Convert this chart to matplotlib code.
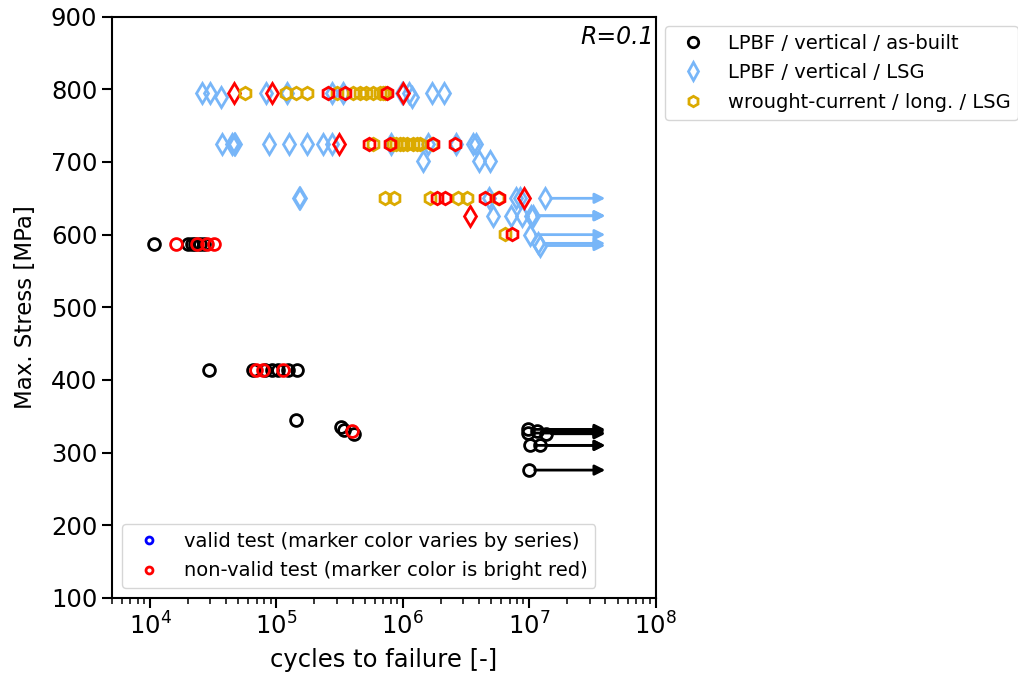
import matplotlib.pyplot as plt
from matplotlib.lines import Line2D
import numpy as np

# LPBF / vertical / as-built  (black circles)
asbuilt_N = [10.8e3, 20.1e3, 21.4e3, 22.7e3, 24.8e3, 26.7e3,
             29.3e3, 65.6e3, 81e3, 91.6e3, 103e3, 124e3, 146e3,
             142e3, 327e3, 340e3, 410e3]
asbuilt_S = [587, 587, 587, 587, 587, 587,
             414, 414, 414, 414, 414, 414, 414,
             345, 335, 331, 325]
asbuilt_bad_N = [16e3, 23.4e3, 28e3, 32.2e3, 68.8e3, 78.7e3, 113e3, 393e3]
asbuilt_bad_S = [587, 587, 587, 587, 414, 414, 414, 330]
asbuilt_run_N = [9.8e6, 9.8e6, 11.5e6, 13.5e6, 10.1e6, 12.1e6, 10.0e6]
asbuilt_run_S = [332, 327, 330, 326, 310, 310, 276]

# LPBF / vertical / LSG  (light blue diamonds)
lsg_N = [25.6e3, 29.8e3, 36.4e3, 82e3, 122e3, 276e3, 338e3, 989e3, 1.12e6, 1.19e6, 1.71e6, 2.11e6,
         37e3, 44.5e3, 46e3, 47e3, 87.7e3, 126e3, 173e3, 235e3, 276e3, 813e3, 1.59e6, 2.62e6, 3.6e6, 3.8e6,
         1.45e6, 4.0e6, 4.93e6,
         150e3, 155e3, 4.78e6, 7.9e6, 8.4e6,
         5.17e6, 7.23e6, 8.83e6]
lsg_S = [795, 795, 790, 795, 795, 795, 795, 795, 795, 790, 795, 795,
         725, 725, 725, 725, 725, 725, 725, 725, 725, 725, 725, 725, 725, 725,
         702, 702, 702,
         650, 651, 650, 650, 650,
         626, 626, 626]
lsg_bad_N = [46.4e3, 93e3, 1.0e6, 314e3, 9.1e6, 3.43e6]
lsg_bad_S = [795, 795, 795, 725, 650, 626]
lsg_run_N = [13.4e6, 10.3e6, 10.7e6, 10.1e6, 11.8e6, 12.2e6]
lsg_run_S = [650, 626, 626, 600, 588, 585]

# wrought-current / long. / LSG  (gold hexagons)
wr_N = [56.4e3, 118e3, 144e3, 173e3, 303e3, 405e3, 457e3, 516e3, 583e3, 658e3, 700e3, 720e3,
        583e3, 840e3, 880e3, 950e3, 1.0e6, 1.07e6, 1.2e6, 1.3e6, 1.36e6, 1.69e6,
        721e3, 849e3, 1.63e6, 2.74e6, 3.22e6, 5.67e6,
        6.4e6]
wr_S = [795, 795, 795, 795, 795, 795, 795, 795, 795, 795, 795, 795,
        725, 725, 725, 725, 725, 725, 725, 725, 725, 725,
        650, 650, 650, 650, 650, 650,
        601]
wr_bad_N = [254e3, 352e3, 743e3, 542e3, 789e3, 1.74e6, 2.58e6, 1.85e6, 2.15e6, 4.45e6, 5.8e6, 7.36e6]
wr_bad_S = [795, 795, 795, 725, 725, 725, 725, 650, 650, 650, 650, 601]

runout_end = 4.0e7

c_blue = '#78b6f8'
c_gold = '#dbaa00'
c_red = '#ff0000'

fig = plt.figure(figsize=(10.18, 6.76), dpi=100)
ax = fig.add_axes([0.110, 0.1154, 0.534, 0.860])


def runouts(N, S, col):
    for n, s in zip(N, S):
        ax.annotate('', xy=(runout_end, s), xytext=(n, s),
                    arrowprops=dict(arrowstyle='-|>', color=col, lw=2,
                                    mutation_scale=15, shrinkA=4, shrinkB=0))


mk = dict(fillstyle='none', linestyle='none', markeredgewidth=2)

# as-built
ax.plot(asbuilt_N, asbuilt_S, marker='o', ms=8.5, color='black', **mk)
ax.plot(asbuilt_bad_N, asbuilt_bad_S, marker='o', ms=8.5, color=c_red, **mk)
runouts(asbuilt_run_N, asbuilt_run_S, 'black')
ax.plot(asbuilt_run_N, asbuilt_run_S, marker='o', ms=8.5, color='black', **mk)

# LSG
ax.plot(lsg_N, lsg_S, marker='d', ms=10.5, color=c_blue, **mk)
ax.plot(lsg_bad_N, lsg_bad_S, marker='d', ms=10.5, color=c_red, **mk)
runouts(lsg_run_N, lsg_run_S, c_blue)
ax.plot(lsg_run_N, lsg_run_S, marker='d', ms=10.5, color=c_blue, **mk)

# wrought
ax.plot(wr_N, wr_S, marker='h', ms=9, color=c_gold, **mk)
ax.plot(wr_bad_N, wr_bad_S, marker='h', ms=9, color=c_red, **mk)

ax.set_xscale('log')
ax.set_xlim(5e3, 1e8)
ax.set_ylim(100, 900)
ax.set_yticks(np.arange(100, 901, 100))
ax.set_xlabel('cycles to failure [-]', fontsize=17.5, labelpad=6)
ax.set_ylabel('Max. Stress [MPa]', fontsize=16.5, labelpad=10)
ax.tick_params(axis='both', which='major', labelsize=17.5, width=1.5, length=7)
ax.tick_params(axis='both', which='minor', width=1.1, length=4)
for sp in ax.spines.values():
    sp.set_linewidth(1.5)

ax.text(0.997, 0.985, 'R=0.1', transform=ax.transAxes, ha='right', va='top',
        fontsize=17, style='italic')

h1 = [Line2D([], [], marker='o', ms=7.5, color='black', **mk),
      Line2D([], [], marker='d', ms=9, color=c_blue, **mk),
      Line2D([], [], marker='h', ms=7.5, color=c_gold, **mk)]
leg1 = ax.legend(h1, ['LPBF / vertical / as-built', 'LPBF / vertical / LSG',
                      'wrought-current / long. / LSG'],
                 loc='upper left', bbox_to_anchor=(1.0, 1.001), fontsize=14,
                 labelspacing=0.55)
ax.add_artist(leg1)

h2 = [Line2D([], [], marker='o', ms=5, color='blue', **mk),
      Line2D([], [], marker='o', ms=5, color=c_red, **mk)]
ax.legend(h2, ['valid test (marker color varies by series)',
               'non-valid test (marker color is bright red)'],
          loc='lower left', fontsize=14, labelspacing=0.55)

fig.savefig('out.png', dpi=100)
